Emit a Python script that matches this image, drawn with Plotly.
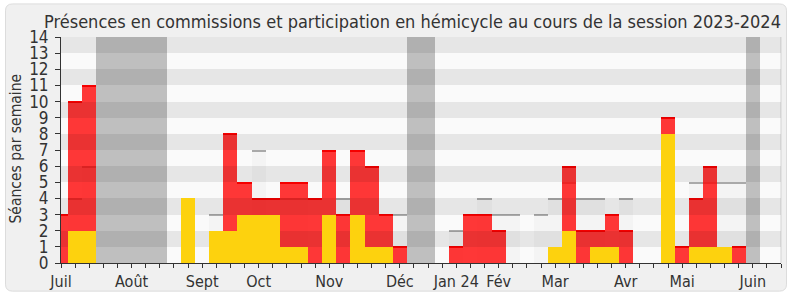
import plotly.graph_objects as go

# ---------------- data ----------------
weeks = list(range(51))  # week index from the start of the session (early July 2023)
presence_commission = [0, 4, 6, 0, 0, 0, 0, 0, 0, 0, 0, 3, 0, 0, 7, 0, 4, 4, 0, 0,
                       4, 0, 0, 0, 3, 0, 0, 0, 2, 0, 4, 3, 3, 0, 3, 4, 5, 4, 4, 0,
                       4, 0, 0, 0, 0, 5, 5, 5, 5, 0, 0]
presence_hemicycle = [3, 10, 11, 0, 0, 0, 0, 0, 0, 0, 0, 0, 8, 5, 4, 4, 5, 5, 4, 7,
                      3, 7, 6, 3, 1, 0, 0, 0, 1, 3, 3, 2, 0, 0, 0, 0, 6, 2, 2, 3,
                      2, 0, 0, 9, 1, 4, 6, 0, 1, 0, 0]
interventions = [0, 2, 2, 0, 0, 0, 0, 0, 0, 4, 0, 2, 2, 3, 3, 3, 1, 1, 0, 3,
                 0, 3, 1, 1, 0, 0, 0, 0, 0, 0, 0, 0, 0, 0, 0, 1, 2, 0, 1, 1,
                 0, 0, 0, 8, 0, 1, 1, 1, 0, 0, 0]
vacances = [3, 4, 5, 6, 7, 25, 26, 49]
month_labels = ["Juil", "Août", "Sept", "Oct", "Nov", "Déc", "Jan 24", "Fév",
                "Mar", "Avr", "Mai", "Juin"]
month_weeks = [0, 5, 10, 14, 19, 24, 28, 31, 35, 40, 44, 49]
y_ticks = list(range(15))

FONT = "DejaVu Sans Condensed, DejaVu Sans, sans-serif"
TXT = "#333333"
LINE_T = 0.07  # thickness (in y units) of the top edge lines
X_MAX = 51
Y_MAX = 14

W, H = 790, 300
ML, MR, MT, MB = 61, 9, 37, 34
PW, PH = W - ML - MR, H - MT - MB


def px(x):
    return (x - ML) / PW


def py(y):
    return (H - MB - y) / PH


def top_line(vals):
    ys = [LINE_T if v > 0 else None for v in vals]
    bs = [v - LINE_T if v > 0 else None for v in vals]
    return ys, bs


fig = go.Figure()

# holidays (full-height grey bands)
fig.add_trace(go.Bar(x=vacances, y=[Y_MAX] * len(vacances), width=1,
                     marker=dict(color="#bfbfbf", line=dict(width=0)),
                     hoverinfo="skip"))

# presence in commission (light grey boxes + top line)
fig.add_trace(go.Bar(x=weeks, y=presence_commission, width=1,
                     marker=dict(color="#f4f4f4", line=dict(width=0)),
                     hoverinfo="skip"))
gy, gb = top_line(presence_commission)
fig.add_trace(go.Bar(x=weeks, y=gy, base=gb, width=1,
                     marker=dict(color="#a9a9a9", line=dict(width=0)),
                     hoverinfo="skip"))

# hemicycle (translucent red + red top line)
fig.add_trace(go.Bar(x=weeks, y=presence_hemicycle, width=1,
                     marker=dict(color="rgba(255,0,0,0.78)", line=dict(width=0)),
                     hoverinfo="skip"))
ry, rb = top_line(presence_hemicycle)
fig.add_trace(go.Bar(x=weeks, y=ry, base=rb, width=1,
                     marker=dict(color="rgb(245,0,0)", line=dict(width=0)),
                     hoverinfo="skip"))

# alternating row stripes (drawn over the grey/red marks)
stripe_rows = [v + 0.5 for v in y_ticks[1:-1:2]]
fig.add_trace(go.Bar(y=stripe_rows, x=[X_MAX + 2] * len(stripe_rows), base=-1,
                     width=1, orientation="h",
                     marker=dict(color="rgba(0,0,0,0.08)", line=dict(width=0)),
                     hoverinfo="skip"))

# interventions (yellow, opaque, on top)
fig.add_trace(go.Bar(x=weeks, y=interventions, width=1,
                     marker=dict(color="#fdd20e", line=dict(width=0)),
                     hoverinfo="skip"))

tick_text = [month_labels[month_weeks.index(w)] if w in month_weeks else ""
             for w in range(X_MAX + 1)]

# outer rounded frame
x0, x1, y0, y1, r = 5.5, 786.5, 3.5, 294.5, 7
rx, ry_ = r / PW, r / PH
path = (f"M {px(x0)+rx},{py(y0)} L {px(x1)-rx},{py(y0)} "
        f"Q {px(x1)},{py(y0)} {px(x1)},{py(y0)-ry_} "
        f"L {px(x1)},{py(y1)+ry_} Q {px(x1)},{py(y1)} {px(x1)-rx},{py(y1)} "
        f"L {px(x0)+rx},{py(y1)} Q {px(x0)},{py(y1)} {px(x0)},{py(y1)+ry_} "
        f"L {px(x0)},{py(y0)-ry_} Q {px(x0)},{py(y0)} {px(x0)+rx},{py(y0)} Z")

shapes = [
    dict(type="path", path=path, xref="paper", yref="paper", layer="below",
         fillcolor="#f0f0f0", line=dict(color="#dcdcdc", width=1)),
    dict(type="rect", xref="paper", yref="paper", x0=0, x1=1, y0=0, y1=1,
         layer="below", fillcolor="#fafafa", line=dict(width=0)),
    dict(type="line", xref="paper", yref="paper", x0=1, x1=1, y0=0, y1=1,
         layer="below", line=dict(color="#d4d4d4", width=1)),
]

fig.update_layout(
    width=W, height=H,
    margin=dict(l=ML, r=MR, t=MT, b=MB),
    paper_bgcolor="#ffffff", plot_bgcolor="rgba(0,0,0,0)",
    barmode="overlay", bargap=0, showlegend=False,
    font=dict(family=FONT, color=TXT, size=16),
    title=dict(text="Présences en commissions et participation en hémicycle au cours de la session 2023-2024",
               x=412.5 / W, xanchor="center", y=1 - 21.5 / H, yanchor="middle",
               font=dict(family=FONT, size=18, color=TXT)),
    xaxis=dict(range=[0, X_MAX], tickmode="array",
               tickvals=list(range(X_MAX + 1)), ticktext=tick_text,
               ticks="outside", ticklen=4, tickwidth=1, tickcolor="#333333",
               showline=True, linecolor="#333333", linewidth=1,
               showgrid=False, zeroline=False, fixedrange=True,
               tickfont=dict(family=FONT, size=16, color=TXT)),
    xaxis2=dict(range=[0, X_MAX], overlaying="x", side="top", anchor="y",
                tickmode="array", tickvals=list(range(1, X_MAX + 1)),
                ticktext=[""] * X_MAX, ticks="outside", ticklen=2,
                tickcolor="#333333", showline=False, showgrid=False,
                zeroline=False),
    yaxis=dict(range=[0, Y_MAX], tickmode="array", tickvals=y_ticks,
               ticktext=[str(v) for v in y_ticks],
               ticks="outside", ticklen=5, tickwidth=1, tickcolor="#333333",
               showline=True, linecolor="#333333", linewidth=1,
               showgrid=False, zeroline=False, fixedrange=True,
               ticklabelstandoff=3,
               tickfont=dict(family=FONT, size=17, color=TXT)),
    shapes=shapes,
    annotations=[dict(text="Séances par semaine", xref="paper", yref="paper",
                      x=px(16), y=py(150), textangle=-90, showarrow=False,
                      xanchor="center", yanchor="middle",
                      font=dict(family=FONT, size=15.5, color=TXT))],
)

fig.write_html("out.html")
